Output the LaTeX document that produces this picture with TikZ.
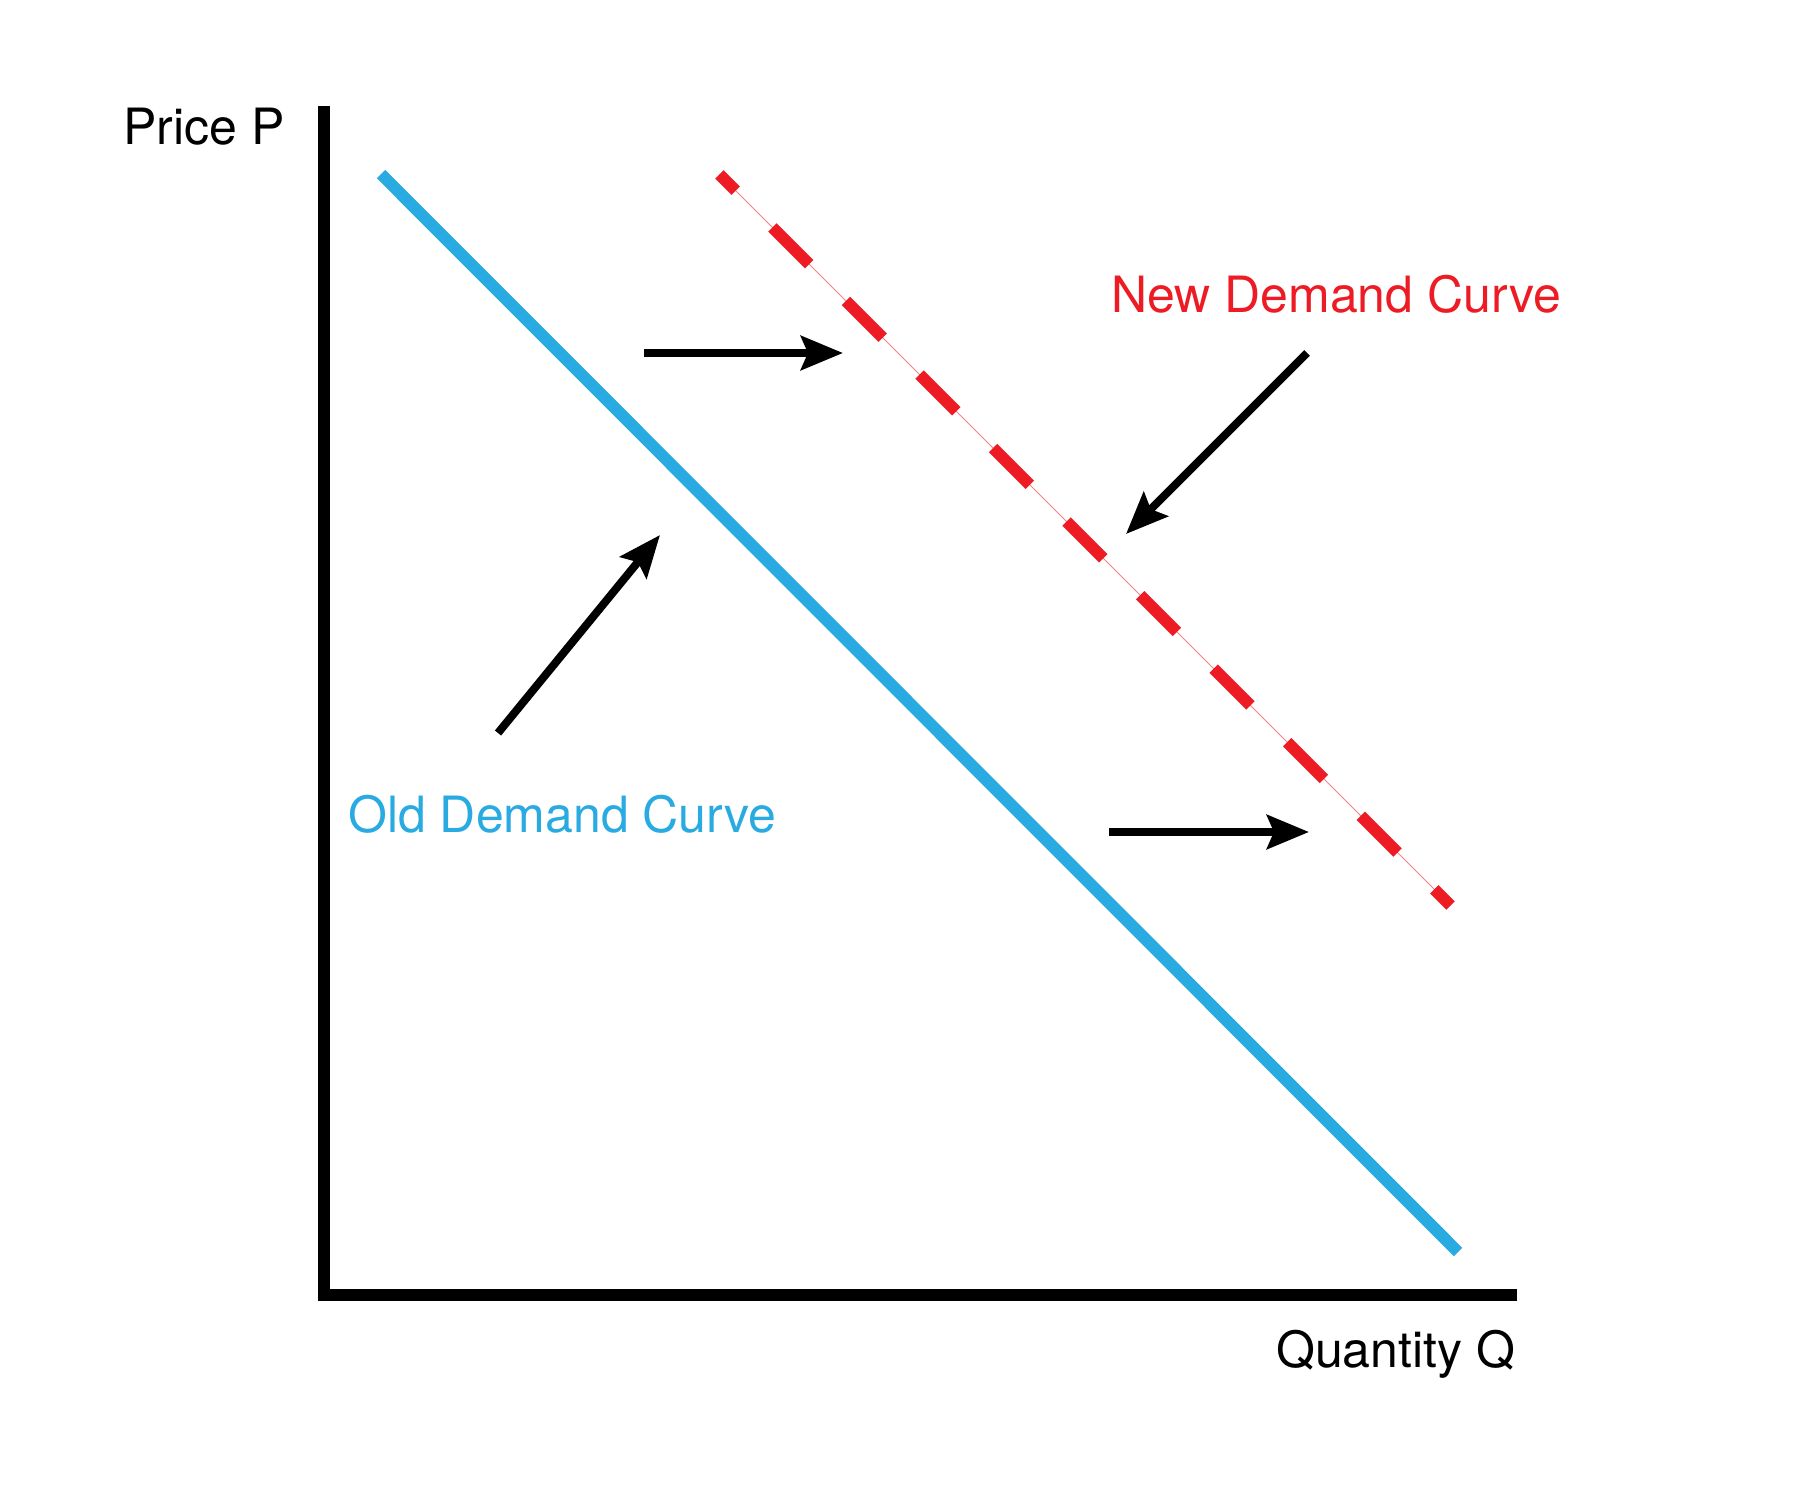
\documentclass[tikz,border=0pt]{standalone}
\usepackage{fontspec}
\setmainfont{TeX Gyre Heros}
\usetikzlibrary{arrows.meta}
\definecolor{oldblue}{HTML}{29ABE2}
\definecolor{newred}{HTML}{ED1C24}
\tikzset{
  axisline/.style={line width=12pt, black, line join=miter},
  shiftarrow/.style={line width=8pt, black, -{Stealth[length=42pt, width=34pt, inset=7pt]}},
  lbl/.style={anchor=base west, inner sep=0pt, font=\fontsize{50}{60}\selectfont},
}
\begin{document}
\begin{tikzpicture}[x=1pt, y=-1pt]
\useasboundingbox (0,0) rectangle (1800,1501);
% axes
\coordinate (ytop) at (324,106);
\coordinate (origin) at (324,1295);
\coordinate (xend) at (1517,1295);
\draw[axisline] (ytop) -- (origin) -- (xend);
% old demand curve
\coordinate (o1) at (381,174);
\coordinate (o2) at (1458,1252);
\draw[oldblue, line width=12pt] (o1) -- (o2);
% new demand curve
\coordinate (n1) at (719.4,174.4);
\coordinate (n2) at (1450.6,905.6);
\draw[newred!55, line width=1pt] (n1) -- (n2);
\draw[newred, line width=12pt, dash pattern=on 52pt off 52pt, dash phase=29pt] (n1) -- (n2);
% shift arrows
\coordinate (a1s) at (644,353);  \coordinate (a1e) at (843,353);
\coordinate (a2s) at (1109,832); \coordinate (a2e) at (1309,832);
\coordinate (a3s) at (1307,353); \coordinate (a3e) at (1126,534);
\coordinate (a4s) at (498,733);  \coordinate (a4e) at (660,535);
\draw[shiftarrow] (a1s) -- (a1e);
\draw[shiftarrow] (a2s) -- (a2e);
\draw[shiftarrow] (a3s) -- (a3e);
\draw[shiftarrow] (a4s) -- (a4e);
% labels
\node[lbl] (price) at (123,145) {Price P};
\node[lbl] (qty) at (1276,1367) {Quantity Q};
\node[lbl, text=newred] (newlbl) at (1111,312) {New Demand Curve};
\node[lbl, text=oldblue] (oldlbl) at (348,832) {Old Demand Curve};
\end{tikzpicture}
\end{document}
